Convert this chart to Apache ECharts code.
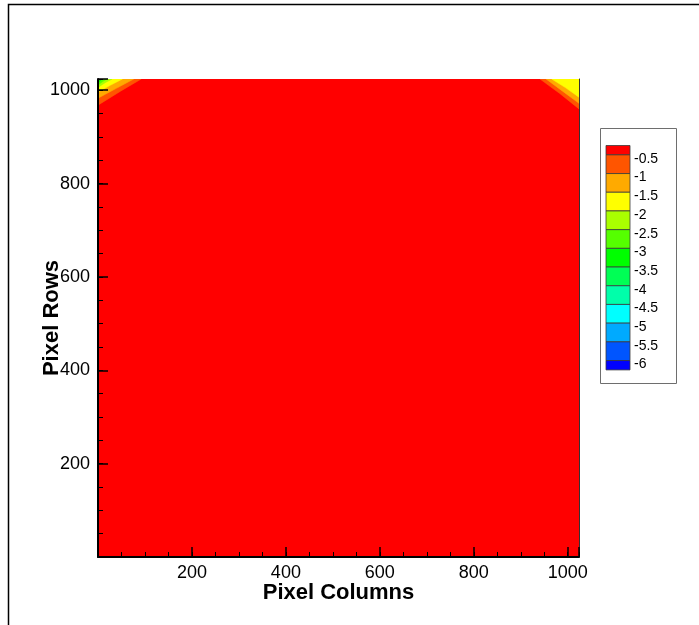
<!DOCTYPE html>
<html>
<head>
<meta charset="utf-8">
<script src="https://cdn.jsdelivr.net/npm/echarts@6/dist/echarts.min.js"></script>
<style>
  html, body { margin: 0; padding: 0; background: #ffffff; }
  #chart { width: 699px; height: 625px; }
</style>
</head>
<body>
<div id="chart"></div>
<script>
// Contour levels; band i lies above levels[i] (band 0 is above the first level)
const levels = [-0.5, -1, -1.5, -2, -2.5, -3, -3.5, -4, -4.5, -5, -5.5, -6];
const bandColors = ['#ff0000', '#ff5500', '#ffaa00', '#ffff00', '#aaff00', '#55ff00',
                    '#00ff00', '#00ff55', '#00ffaa', '#00ffff', '#00aaff', '#0055ff', '#0000ff'];

// Image extent in pixels (columns x rows)
const columnRange = [0, 1024];
const rowRange = [0, 1024];
const majorStep = 200;
const minorStep = 50;

// Contour lines in the top-left corner: top edge -> left edge
const topLeftLevels = [-0.5, -1, -1.5, -2, -2.5, -3];
const topLeftLines = [
  [[92, 1024], [48, 998], [0, 968]],
  [[76, 1024], [39, 1004], [0, 983]],
  [[52, 1024], [27, 1011], [0, 996]],
  [[30, 1024], [15, 1016], [0, 1006]],
  [[19, 1024], [9, 1018], [0, 1011]],
  [[9, 1024], [0, 1016]]
];

// Contour lines in the top-right corner: top edge -> right edge
const topRightLevels = [-0.5, -1, -1.5];
const topRightLines = [
  [[941, 1024], [983, 993], [1024, 960]],
  [[954, 1024], [989, 998], [1024, 972]],
  [[966, 1024], [996, 1005], [1024, 985]]
];

// Filled regions, painted back to front
const regions = [];
regions.push({
  color: bandColors[0],
  points: [[columnRange[0], rowRange[0]], [columnRange[1], rowRange[0]],
           [columnRange[1], rowRange[1]], [columnRange[0], rowRange[1]]]
});
topLeftLines.forEach((line, i) => {
  regions.push({
    color: bandColors[levels.indexOf(topLeftLevels[i]) + 1],
    points: line.concat([[columnRange[0], rowRange[1]]])
  });
});
topRightLines.forEach((line, i) => {
  regions.push({
    color: bandColors[levels.indexOf(topRightLevels[i]) + 1],
    points: line.concat([[columnRange[1], rowRange[1]]])
  });
});

const FONT = "'Liberation Sans', Arial, sans-serif";

// Contour legend: colour column with level labels at the band boundaries
const legendBox = { x: 600, y: 128, w: 76, h: 255 };
const swatch = { x: 606, top: 145.5, w: 24, step: 18.7 };
const legendElements = [{
  type: 'rect',
  shape: { x: legendBox.x + 0.5, y: legendBox.y + 0.5, width: legendBox.w, height: legendBox.h },
  style: { fill: '#ffffff', stroke: '#6e6e6e', lineWidth: 1 }
}];
bandColors.forEach((c, i) => {
  const last = bandColors.length - 1;
  const y0 = i === 0 ? swatch.top : swatch.top + swatch.step / 2 + (i - 1) * swatch.step;
  const h = (i === 0 || i === last) ? swatch.step / 2 : swatch.step;
  legendElements.push({
    type: 'rect',
    shape: { x: swatch.x, y: y0, width: swatch.w, height: h },
    style: { fill: c, stroke: '#3a3a3a', lineWidth: 0.8 }
  });
});
levels.forEach((lv, k) => {
  legendElements.push({
    type: 'text',
    x: swatch.x + swatch.w + 4,
    y: swatch.top + swatch.step / 2 + k * swatch.step + 4,
    style: { text: String(lv), fill: '#000', font: '14px ' + FONT, verticalAlign: 'middle', align: 'left' }
  });
});

// Outer frame of the figure
const frame = {
  type: 'rect',
  shape: { x: 8.5, y: 4.5, width: 720, height: 650 },
  style: { fill: 'none', stroke: '#000', lineWidth: 1.5 }
};

const labelFmt = v => (v > 0 && v % majorStep === 0) ? String(v) : '';

function mainAxis(name, gap, extent) {
  return {
    type: 'value', min: extent[0], max: extent[1], interval: majorStep, z: 10,
    name: name, nameLocation: 'middle', nameGap: gap, nameMoveOverlap: false,
    nameTextStyle: { fontFamily: FONT, fontWeight: 'bold', fontSize: 22, color: '#000' },
    axisLine: { show: true, onZero: false, lineStyle: { color: '#000', width: 2 } },
    axisTick: { show: true, inside: true, length: 10, lineStyle: { color: '#000', width: 1.5 } },
    axisLabel: { fontFamily: FONT, fontSize: 18, color: '#000', formatter: labelFmt },
    splitLine: { show: false }
  };
}
function minorAxis(extent, position) {
  return {
    type: 'value', min: extent[0], max: extent[1], interval: minorStep, position: position, z: 10,
    axisLine: { show: false, onZero: false },
    axisTick: { show: true, inside: true, length: 5, lineStyle: { color: '#000', width: 1 } },
    axisLabel: { show: false },
    splitLine: { show: false }
  };
}

const xMain = mainAxis('Pixel Columns', 25, columnRange);
xMain.position = 'bottom';
xMain.axisLabel.margin = 7;
const yMain = mainAxis('Pixel Rows', 35, rowRange);
yMain.position = 'left';
yMain.axisLabel.margin = 8;

const chart = echarts.init(document.getElementById('chart'), null, { renderer: 'canvas' });
chart.setOption({
  backgroundColor: '#ffffff',
  animation: false,
  grid: { left: 98, top: 79, width: 481, height: 478, containLabel: false },
  xAxis: [xMain, minorAxis(columnRange, 'bottom')],
  yAxis: [
    yMain,
    minorAxis(rowRange, 'left'),
    {
      type: 'value', min: rowRange[0], max: rowRange[1], position: 'right', z: 10,
      axisLine: { show: true, onZero: false, lineStyle: { color: '#333', width: 1 } },
      axisTick: { show: false }, axisLabel: { show: false }, splitLine: { show: false }
    }
  ],
  series: [{
    type: 'custom',
    xAxisIndex: 0,
    yAxisIndex: 0,
    clip: true,
    z: 0,
    data: regions.map(r => r.points[0]),
    renderItem: function (params, api) {
      const r = regions[params.dataIndex];
      return {
        type: 'polygon',
        shape: { points: r.points.map(p => api.coord(p)) },
        style: { fill: r.color, stroke: r.color, lineWidth: 0.6 }
      };
    }
  }],
  graphic: [frame].concat(legendElements)
});
</script>
</body>
</html>
